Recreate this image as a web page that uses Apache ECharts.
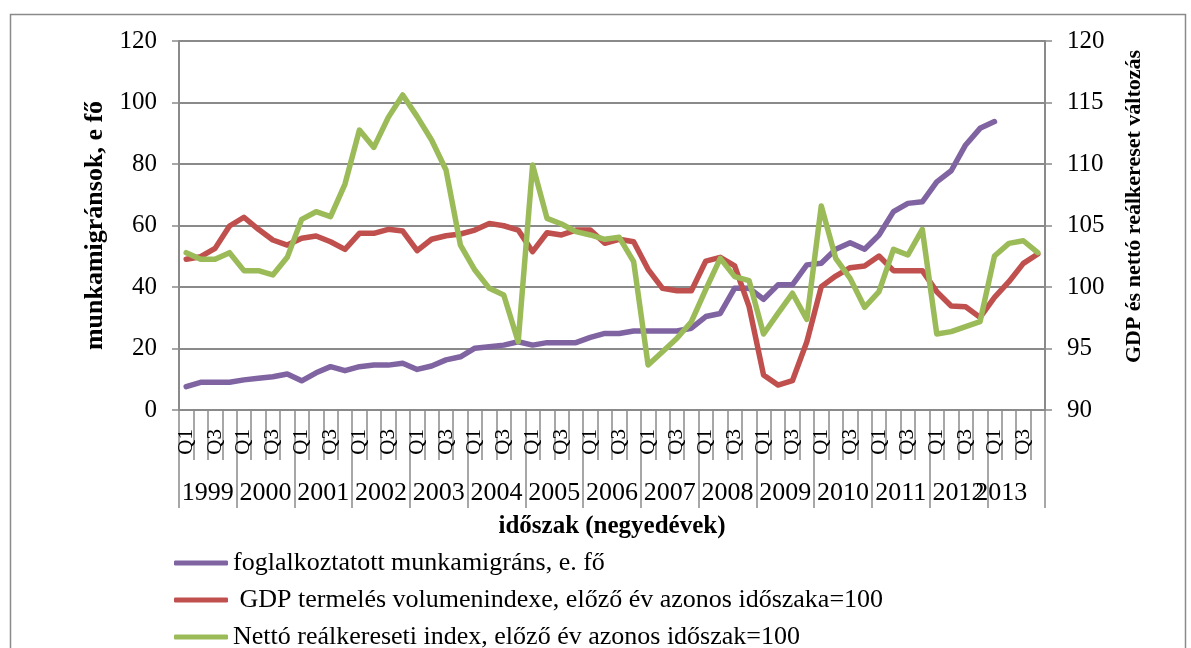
<!DOCTYPE html>
<html>
<head>
<meta charset="utf-8">
<script src="https://cdn.jsdelivr.net/npm/echarts@6/dist/echarts.min.js"></script>
<style>
html,body{margin:0;padding:0;background:#fff;}
#chart{width:1191px;height:648px;}
</style>
</head>
<body>
<div id="chart"></div>
<script>
const years = ['1999','2000','2001','2002','2003','2004','2005','2006','2007','2008','2009','2010','2011','2012','2013'];
const quarterNames = ['Q1','Q2','Q3','Q4'];
const quarters = [];
years.forEach(function(){ quarterNames.forEach(function(q){ quarters.push(q); }); });

const seriesNames = [
  'foglalkoztatott munkamigráns, e. fő',
  'GDP termelés volumenindexe, előző év azonos időszaka=100',
  'Nettó reálkereseti index, előző év azonos időszak=100'
];

const migrants = [
  7.6, 9.0, 9.0, 9.0, 9.8, 10.3, 10.8, 11.7, 9.5, 12.1, 14.1, 12.8, 14.1, 14.6, 14.6, 15.2,
  13.2, 14.3, 16.3, 17.3, 20.1, 20.6, 21.1, 22.2, 21.1, 21.9, 21.9, 21.9, 23.6, 24.9, 24.9, 25.7,
  25.7, 25.7, 25.7, 26.6, 30.4, 31.4, 39.6, 39.6, 36.0, 40.7, 40.7, 47.2, 47.7, 52.3, 54.4, 52.3,
  56.9, 64.5, 67.2, 67.7, 74.2, 77.8, 86.2, 91.6, 93.8, null, null, null
];

const gdp = [
  102.25, 102.46, 103.14, 104.96, 105.67, 104.69, 103.82, 103.41, 103.96, 104.15, 103.68, 103.06, 104.36, 104.36, 104.69, 104.55,
  102.95, 103.88, 104.17, 104.31, 104.63, 105.17, 104.98, 104.63, 102.87, 104.41, 104.23, 104.63, 104.63, 103.55, 103.88, 103.68,
  101.44, 99.89, 99.70, 99.70, 102.11, 102.41, 101.71, 98.4, 92.85, 92.03, 92.38, 95.55, 100.03, 100.89, 101.57, 101.71,
  102.52, 101.33, 101.33, 101.33, 99.62, 98.46, 98.40, 97.53, 99.16, 100.43, 101.92, 102.68
];

const wage = [
  102.79, 102.25, 102.25, 102.79, 101.33, 101.33, 100.98, 102.41, 105.50, 106.12, 105.72, 108.37, 112.76, 111.35, 113.79, 115.61,
  113.85, 111.95, 109.51, 103.4, 101.38, 99.89, 99.35, 95.55, 109.92, 105.58, 105.12, 104.50, 104.23, 103.88, 104.04, 102.06,
  93.66, 94.74, 95.83, 97.18, 99.81, 102.33, 100.84, 100.51, 96.18, 97.86, 99.49, 97.37, 106.59, 102.33, 100.70, 98.35,
  99.62, 103.06, 102.60, 104.69, 96.18, 96.37, 96.78, 97.18, 102.52, 103.55, 103.76, 102.79
];

const leftTicks = { min: 0, max: 120, interval: 20 };
const rightTicks = { min: 90, max: 120, interval: 5 };

const colors = ['#8064A2', '#C0504D', '#9BBB59'];
const serif = "'Liberation Serif', 'Times New Roman', serif";
const grey = '#8a8a8a';

const yearData = years.map(function(y){
  if (y === '2013') return { value: y, textStyle: { padding: [0, 30, 0, 0] } };
  return y;
});

const legendTops = [548, 585, 622];
const legends = seriesNames.map(function(n, i){
  return {
    orient: 'vertical', left: 174, top: legendTops[i],
    icon: 'roundRect', itemWidth: 54, itemHeight: 5, itemGap: 0, padding: 0,
    textStyle: { fontFamily: serif, fontSize: 26, color: '#000', lineHeight: 30 },
    formatter: function(name){ return name.indexOf('GDP') === 0 ? ' ' + name : name; },
    data: [n]
  };
});

const chart = echarts.init(document.getElementById('chart'));
chart.setOption({
  animation: false,
  backgroundColor: '#fff',
  textStyle: { fontFamily: serif },
  graphic: [{
    type: 'rect', left: 8, top: 12, silent: true,
    shape: { width: 1175, height: 700 },
    style: { fill: 'none', stroke: grey, lineWidth: 1.5 }
  }],
  grid: { left: 179, right: 146, top: 41, bottom: 238, containLabel: false },
  legend: legends,
  xAxis: [{
    type: 'category', position: 'bottom', data: quarters, boundaryGap: true,
    axisLine: { show: true, lineStyle: { color: grey, width: 2 } },
    axisTick: { show: true, interval: 0, length: 50, lineStyle: { color: grey, width: 1.5 } },
    axisLabel: { interval: 1, rotate: 90, margin: 19, fontSize: 21, color: '#000', fontFamily: serif },
    splitLine: { show: false }
  }, {
    type: 'category', position: 'bottom', data: yearData, boundaryGap: true,
    axisLine: { show: false },
    axisTick: { show: true, interval: 0, length: 98, lineStyle: { color: grey, width: 1.5 } },
    axisLabel: { interval: 0, margin: 70, fontSize: 26, color: '#000', fontFamily: serif },
    splitLine: { show: false },
    name: 'időszak (negyedévek)', nameLocation: 'middle', nameGap: 104,
    nameTextStyle: { fontFamily: serif, fontSize: 25, fontWeight: 'bold', color: '#000' }
  }],
  yAxis: [{
    type: 'value', position: 'left', min: leftTicks.min, max: leftTicks.max, interval: leftTicks.interval,
    axisLine: { show: true, lineStyle: { color: grey, width: 2 } },
    axisTick: { show: true, length: 7, lineStyle: { color: grey, width: 1.5 } },
    axisLabel: { margin: 22, fontSize: 25, color: '#000', fontFamily: serif },
    splitLine: { show: true, lineStyle: { color: grey, width: 2 } },
    name: 'munkamigránsok, e fő', nameLocation: 'middle', nameGap: 70,
    nameTextStyle: { fontFamily: serif, fontSize: 26, fontWeight: 'bold', color: '#000' }
  }, {
    type: 'value', position: 'right', min: rightTicks.min, max: rightTicks.max, interval: rightTicks.interval,
    axisLine: { show: true, lineStyle: { color: grey, width: 2 } },
    axisTick: { show: true, length: 7, lineStyle: { color: grey, width: 1.5 } },
    axisLabel: { margin: 22, fontSize: 25, color: '#000', fontFamily: serif },
    splitLine: { show: false },
    name: 'GDP és nettó reálkereset változás', nameLocation: 'middle', nameGap: 78,
    nameTextStyle: { fontFamily: serif, fontSize: 22, fontWeight: 'bold', color: '#000', padding: [0, 0, 0, 38] }
  }],
  series: [{
    name: seriesNames[0], type: 'line', xAxisIndex: 0, yAxisIndex: 0, data: migrants,
    symbol: 'none', connectNulls: false,
    lineStyle: { color: colors[0], width: 5.5, cap: 'round', join: 'round' },
    itemStyle: { color: colors[0] }
  }, {
    name: seriesNames[1], type: 'line', xAxisIndex: 0, yAxisIndex: 1, data: gdp,
    symbol: 'none',
    lineStyle: { color: colors[1], width: 5.5, cap: 'round', join: 'round' },
    itemStyle: { color: colors[1] }
  }, {
    name: seriesNames[2], type: 'line', xAxisIndex: 0, yAxisIndex: 1, data: wage,
    symbol: 'none',
    lineStyle: { color: colors[2], width: 5.5, cap: 'round', join: 'round' },
    itemStyle: { color: colors[2] }
  }]
});
</script>
</body>
</html>
